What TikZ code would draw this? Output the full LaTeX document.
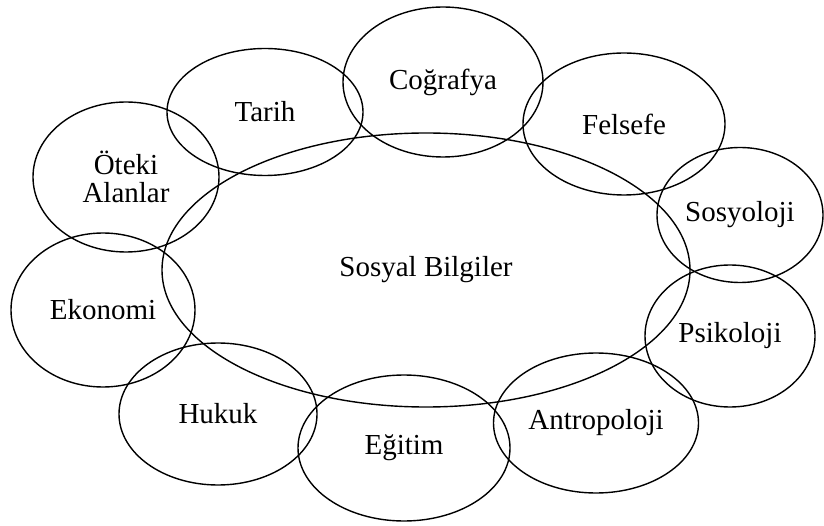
\documentclass[tikz,border=0pt]{standalone}
\usepackage{fontspec}
\setmainfont{Liberation Serif}
\usepackage{tikz}
\usetikzlibrary{shapes}
\tikzstyle{field} = [ellipse, draw, line width=1.4pt, inner sep=0pt,
    align=center, font=\fontsize{29}{28}\selectfont]
\tikzstyle{coreField} = [field, minimum width=528pt, minimum height=274pt]

\begin{document}
\begin{tikzpicture}[x=1pt, y=-1pt]
    \useasboundingbox (0,0) rectangle (824,526);
    % Place nodes
    \node[coreField] at (426,270) (sosyalBilgiler){Sosyal Bilgiler};
    \node[field, minimum width=200pt, minimum height=150pt] at (443,82) (cografya){Coğrafya};
    \node[field, minimum width=196pt, minimum height=127pt] at (265,112) (tarih){Tarih};
    \node[field, minimum width=202pt, minimum height=142pt] at (624,124) (felsefe){Felsefe};
    \node[field, minimum width=186pt, minimum height=150pt] at (126,177) (otekiAlanlar){Öteki\\Alanlar};
    \node[field, minimum width=166pt, minimum height=135pt] at (740,215) (sosyoloji){Sosyoloji};
    \node[field, minimum width=184pt, minimum height=154pt] at (103,310) (ekonomi){Ekonomi};
    \node[field, minimum width=170pt, minimum height=142pt] at (730,336) (psikoloji){Psikoloji};
    \node[field, minimum width=198pt, minimum height=142pt] at (218,414) (hukuk){Hukuk};
    \node[field, minimum width=212pt, minimum height=146pt] at (404,448) (egitim){Eğitim};
    \node[field, minimum width=205pt, minimum height=140pt] at (596,423) (antropoloji){Antropoloji};
\end{tikzpicture}
\end{document}
